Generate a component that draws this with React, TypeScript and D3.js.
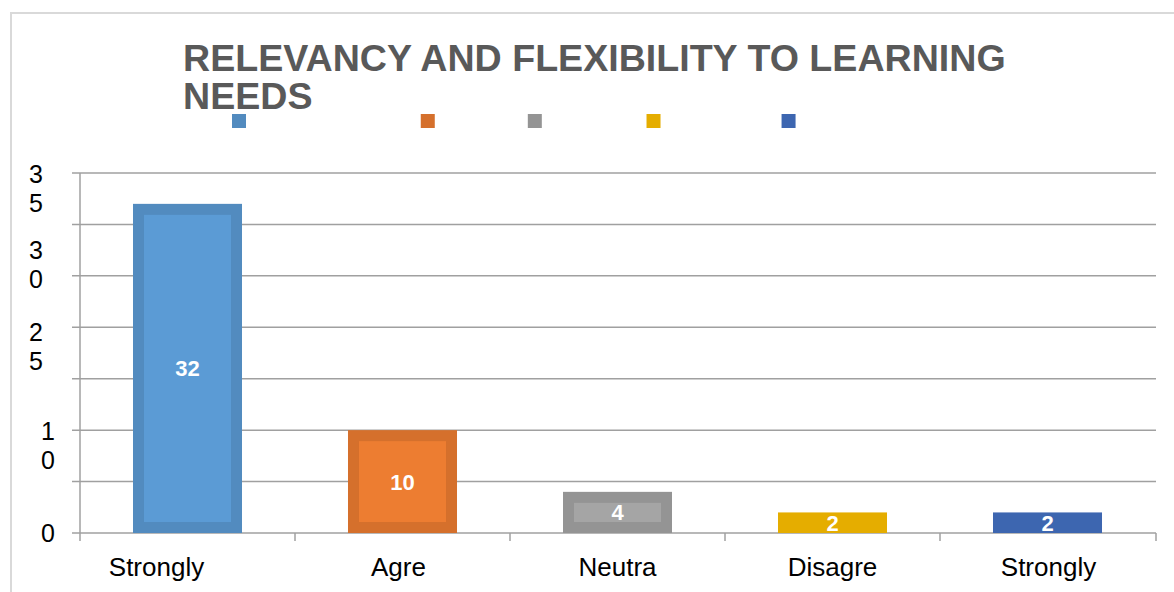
import { useEffect, useRef } from 'react';
import * as d3 from 'd3';

const categories = ['Strongly Agree', 'Agree', 'Neutral', 'Disagree', 'Strongly Disagree'];
const xTickLabels = ['Strongly', 'Agre', 'Neutra', 'Disagre', 'Strongly'];
const counts = [32, 10, 4, 2, 2];
const colors = ['#5b9bd5', '#ed7d31', '#a5a5a5', '#ffc000', '#4472c4'];
const yTicks = [0, 5, 10, 15, 20, 25, 30, 35];
const yTickLabels = ['0', '', '10', '', '', '25', '30', '35'];
const titleLines = ['RELEVANCY AND FLEXIBILITY TO LEARNING', 'NEEDS'];

// nudges, where the labels wrap oddly
const yLabelNudge: Record<string, { dy: number; right: number }> = {
  '35': { dy: 1, right: 43 },
  '30': { dy: 26, right: 43 },
  '25': { dy: 56, right: 43 },
  '10': { dy: 1, right: 55 },
  '0': { dy: 0, right: 55 },
};
const xLabelShift = [-31, -4, 0, 0, 1];

const App = () => {
  const svgRef = useRef<SVGSVGElement>(null);

  useEffect(() => {
    if (!svgRef.current) return;
    const svg = d3.select(svgRef.current);
    svg.selectAll('*').remove();

    const left = 80;
    const right = 1155;
    const top = 173;
    const bottom = 533;
    const font = 'Arial, "Liberation Sans", sans-serif';
    const grid = '#a0a0a0';

    const y = d3.scaleLinear().domain([0, 35]).range([bottom, top]);
    const pad = 0.493;
    const x = d3
      .scaleBand()
      .domain(categories)
      .range([left, right])
      .paddingInner(pad)
      .paddingOuter(pad / 2);
    const xb = d3.scaleBand().domain(categories).range([left, right]);
    const outer = (c: string) => d3.color(c)!.darker(0.3).formatHex();

    // chart area border
    svg
      .append('rect')
      .attr('x', 11)
      .attr('y', 13)
      .attr('width', 1300)
      .attr('height', 700)
      .attr('fill', 'white')
      .attr('stroke', '#d9d9d9')
      .attr('stroke-width', 2);

    // title
    const title = svg
      .append('text')
      .attr('font-family', font)
      .attr('font-weight', 'bold')
      .attr('font-size', 37.6)
      .attr('fill', '#595959');
    titleLines.forEach((t, i) => {
      title
        .append('tspan')
        .attr('x', 183)
        .attr('y', 71 + i * 38)
        .text(t);
    });

    // legend: swatches, names written in white like the reference
    const legend = svg.append('g').attr('font-family', font).attr('font-size', 21);
    let lx = 232;
    categories.forEach((c, i) => {
      legend
        .append('rect')
        .attr('x', lx)
        .attr('y', 114)
        .attr('width', 14)
        .attr('height', 14)
        .attr('fill', outer(colors[i]));
      const t = legend
        .append('text')
        .attr('x', lx + 20)
        .attr('y', 132)
        .attr('fill', 'white')
        .text(c);
      const w = (t.node() as SVGTextElement).getComputedTextLength();
      lx += 14 + 6 + w + 31;
    });

    // gridlines + y ticks
    svg
      .append('g')
      .selectAll('line')
      .data(yTicks)
      .join('line')
      .attr('x1', left - 8)
      .attr('x2', right + 1)
      .attr('y1', (d) => y(d))
      .attr('y2', (d) => y(d))
      .attr('stroke', grid)
      .attr('stroke-width', 1.5);

    // y axis line
    svg
      .append('line')
      .attr('x1', left)
      .attr('x2', left)
      .attr('y1', top)
      .attr('y2', bottom + 8)
      .attr('stroke', grid)
      .attr('stroke-width', 1.5);

    // x ticks at category boundaries
    const bounds = categories.map((c) => xb(c)!).concat([right + 1]);
    svg
      .append('g')
      .selectAll('line')
      .data(bounds.slice(1))
      .join('line')
      .attr('x1', (d) => d)
      .attr('x2', (d) => d)
      .attr('y1', bottom)
      .attr('y2', bottom + 8)
      .attr('stroke', grid)
      .attr('stroke-width', 1.5);

    // y labels, wrapped one digit per line
    const yl = svg.append('g').attr('font-family', font).attr('font-size', 25).attr('fill', '#000');
    yTicks.forEach((v, i) => {
      const lab = yTickLabels[i];
      if (!lab) return;
      const n = yLabelNudge[lab];
      const t = yl.append('text').attr('text-anchor', 'end');
      lab.split('').forEach((ch, j) => {
        t.append('tspan')
          .attr('x', n.right)
          .attr('y', y(v) + n.dy + 9 + j * 29)
          .text(ch);
      });
    });

    // x labels
    svg
      .append('g')
      .selectAll('text')
      .data(categories)
      .join('text')
      .attr('x', (d, i) => xb(d)! + xb.bandwidth() / 2 + xLabelShift[i])
      .attr('y', 576)
      .attr('text-anchor', 'middle')
      .attr('font-family', font)
      .attr('font-size', 26)
      .attr('fill', '#000')
      .text((d, i) => xTickLabels[i]);

    // bars: darker frame with lighter centre when there is room
    const inset = 11;
    const bars = svg.append('g');
    categories.forEach((c, i) => {
      const bx = x(c)!;
      const by = y(counts[i]);
      const bh = bottom - by;
      const bw = x.bandwidth();
      bars
        .append('rect')
        .attr('x', bx)
        .attr('y', by)
        .attr('width', bw)
        .attr('height', bh)
        .attr('fill', outer(colors[i]));
      if (bh > inset * 2 + 4) {
        bars
          .append('rect')
          .attr('x', bx + inset)
          .attr('y', by + inset)
          .attr('width', bw - inset * 2)
          .attr('height', bh - inset * 2)
          .attr('fill', colors[i]);
      }
      bars
        .append('text')
        .attr('x', bx + bw / 2)
        .attr('y', by + bh / 2 + 8)
        .attr('text-anchor', 'middle')
        .attr('font-family', font)
        .attr('font-weight', 'bold')
        .attr('font-size', 22)
        .attr('fill', 'white')
        .text(counts[i]);
    });
  }, []);

  return (
    <svg
      ref={svgRef}
      width={1174}
      height={592}
      style={{ position: 'absolute', left: 0, top: 0, background: 'white' }}
    />
  );
};

export default App;
